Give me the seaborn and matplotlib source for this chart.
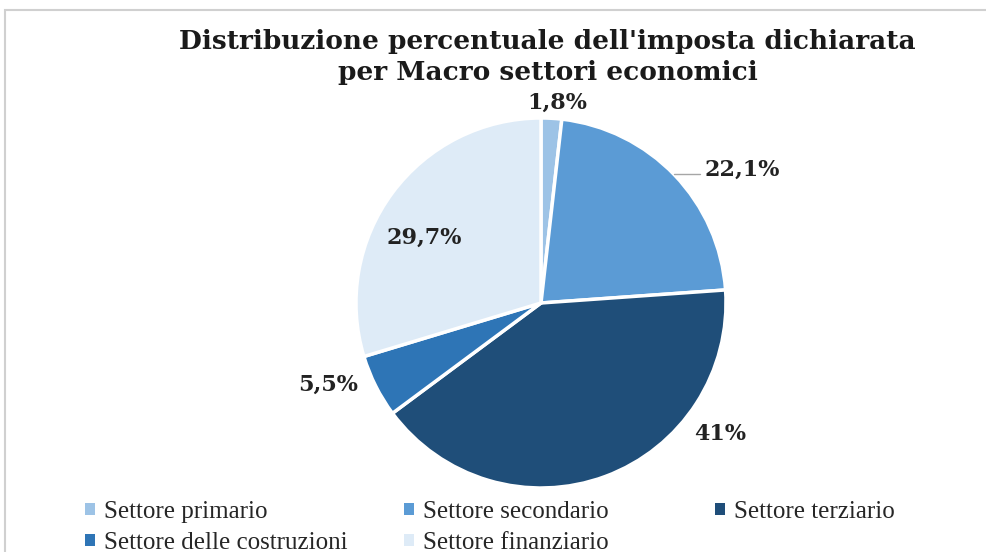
import numpy as np
import matplotlib
matplotlib.use("Agg")
import matplotlib.pyplot as plt
import seaborn as sns
from matplotlib.patches import Rectangle

# data
sectors = ["Settore primario", "Settore secondario", "Settore terziario",
           "Settore delle costruzioni", "Settore finanziario"]
shares = [1.8, 22.1, 41.0, 5.5, 29.7]
share_labels = ["1,8%", "22,1%", "41%", "5,5%", "29,7%"]
colors = ["#9DC3E6", "#5B9BD5", "#1F4E79", "#2E75B6", "#DEEBF7"]

# label positions (in pie-radius units)
label_xy = [(0.09, 1.08), (1.09, 0.72), (0.97, -0.71), (-1.15, -0.44), (-0.63, 0.35)]

sns.set_theme(style="white")
plt.rcParams["font.family"] = ["Liberation Serif", "DejaVu Serif"]

fig = plt.figure(figsize=(9.87, 5.52), dpi=100)

# chart frame
fig.patches.append(Rectangle((5 / 987, -0.01), 1.0, 1 - 10 / 552 + 0.01,
                             transform=fig.transFigure, fill=False,
                             edgecolor="#D0D0D0", linewidth=1.5))

cx, cy, r = 541 / 987, 1 - 303 / 552, 185
ax = fig.add_axes([cx - r / 987, cy - r / 552, 2 * r / 987, 2 * r / 552])
wedges, _ = ax.pie(shares, colors=colors, startangle=90, counterclock=False,
                   wedgeprops=dict(edgecolor="white", linewidth=2.5))
ax.set_xlim(-1, 1)
ax.set_ylim(-1, 1)
ax.set_aspect("equal")

for txt, (x, y) in zip(share_labels, label_xy):
    ax.text(x, y, txt, ha="center", va="center", fontsize=16, family="DejaVu Serif",
            fontweight="bold", color="#222222", clip_on=False)

# leader line for the 22,1% label
yl = 0.695
ax.plot([np.sqrt(1 - yl ** 2), 0.86], [yl, yl], color="#A6A6A6", lw=1, clip_on=False)

fig.text(0.555, 1 - 57 / 552,
         "Distribuzione percentuale dell'imposta dichiarata\nper Macro settori economici",
         ha="center", va="center", fontsize=19, fontweight="bold", family="DejaVu Serif",
         color="#1a1a1a", linespacing=1.3)

# legend laid out in three columns, as in the original
columns = [[0, 3], [1, 4], [2]]
col_x = [80, 399, 710]
for idx, x0 in zip(columns, col_x):
    leg = fig.legend([wedges[i] for i in idx], [sectors[i] for i in idx],
                     loc="upper left", bbox_to_anchor=(x0 / 987, 1 - 496 / 552),
                     frameon=False, fontsize=18, handlelength=0.4, handleheight=0.4,
                     handletextpad=0.35, labelspacing=0.35, borderaxespad=0,
                     borderpad=0.2)
    for h in leg.legend_handles:
        h.set_edgecolor("none")

fig.savefig("out.png", dpi=100)
